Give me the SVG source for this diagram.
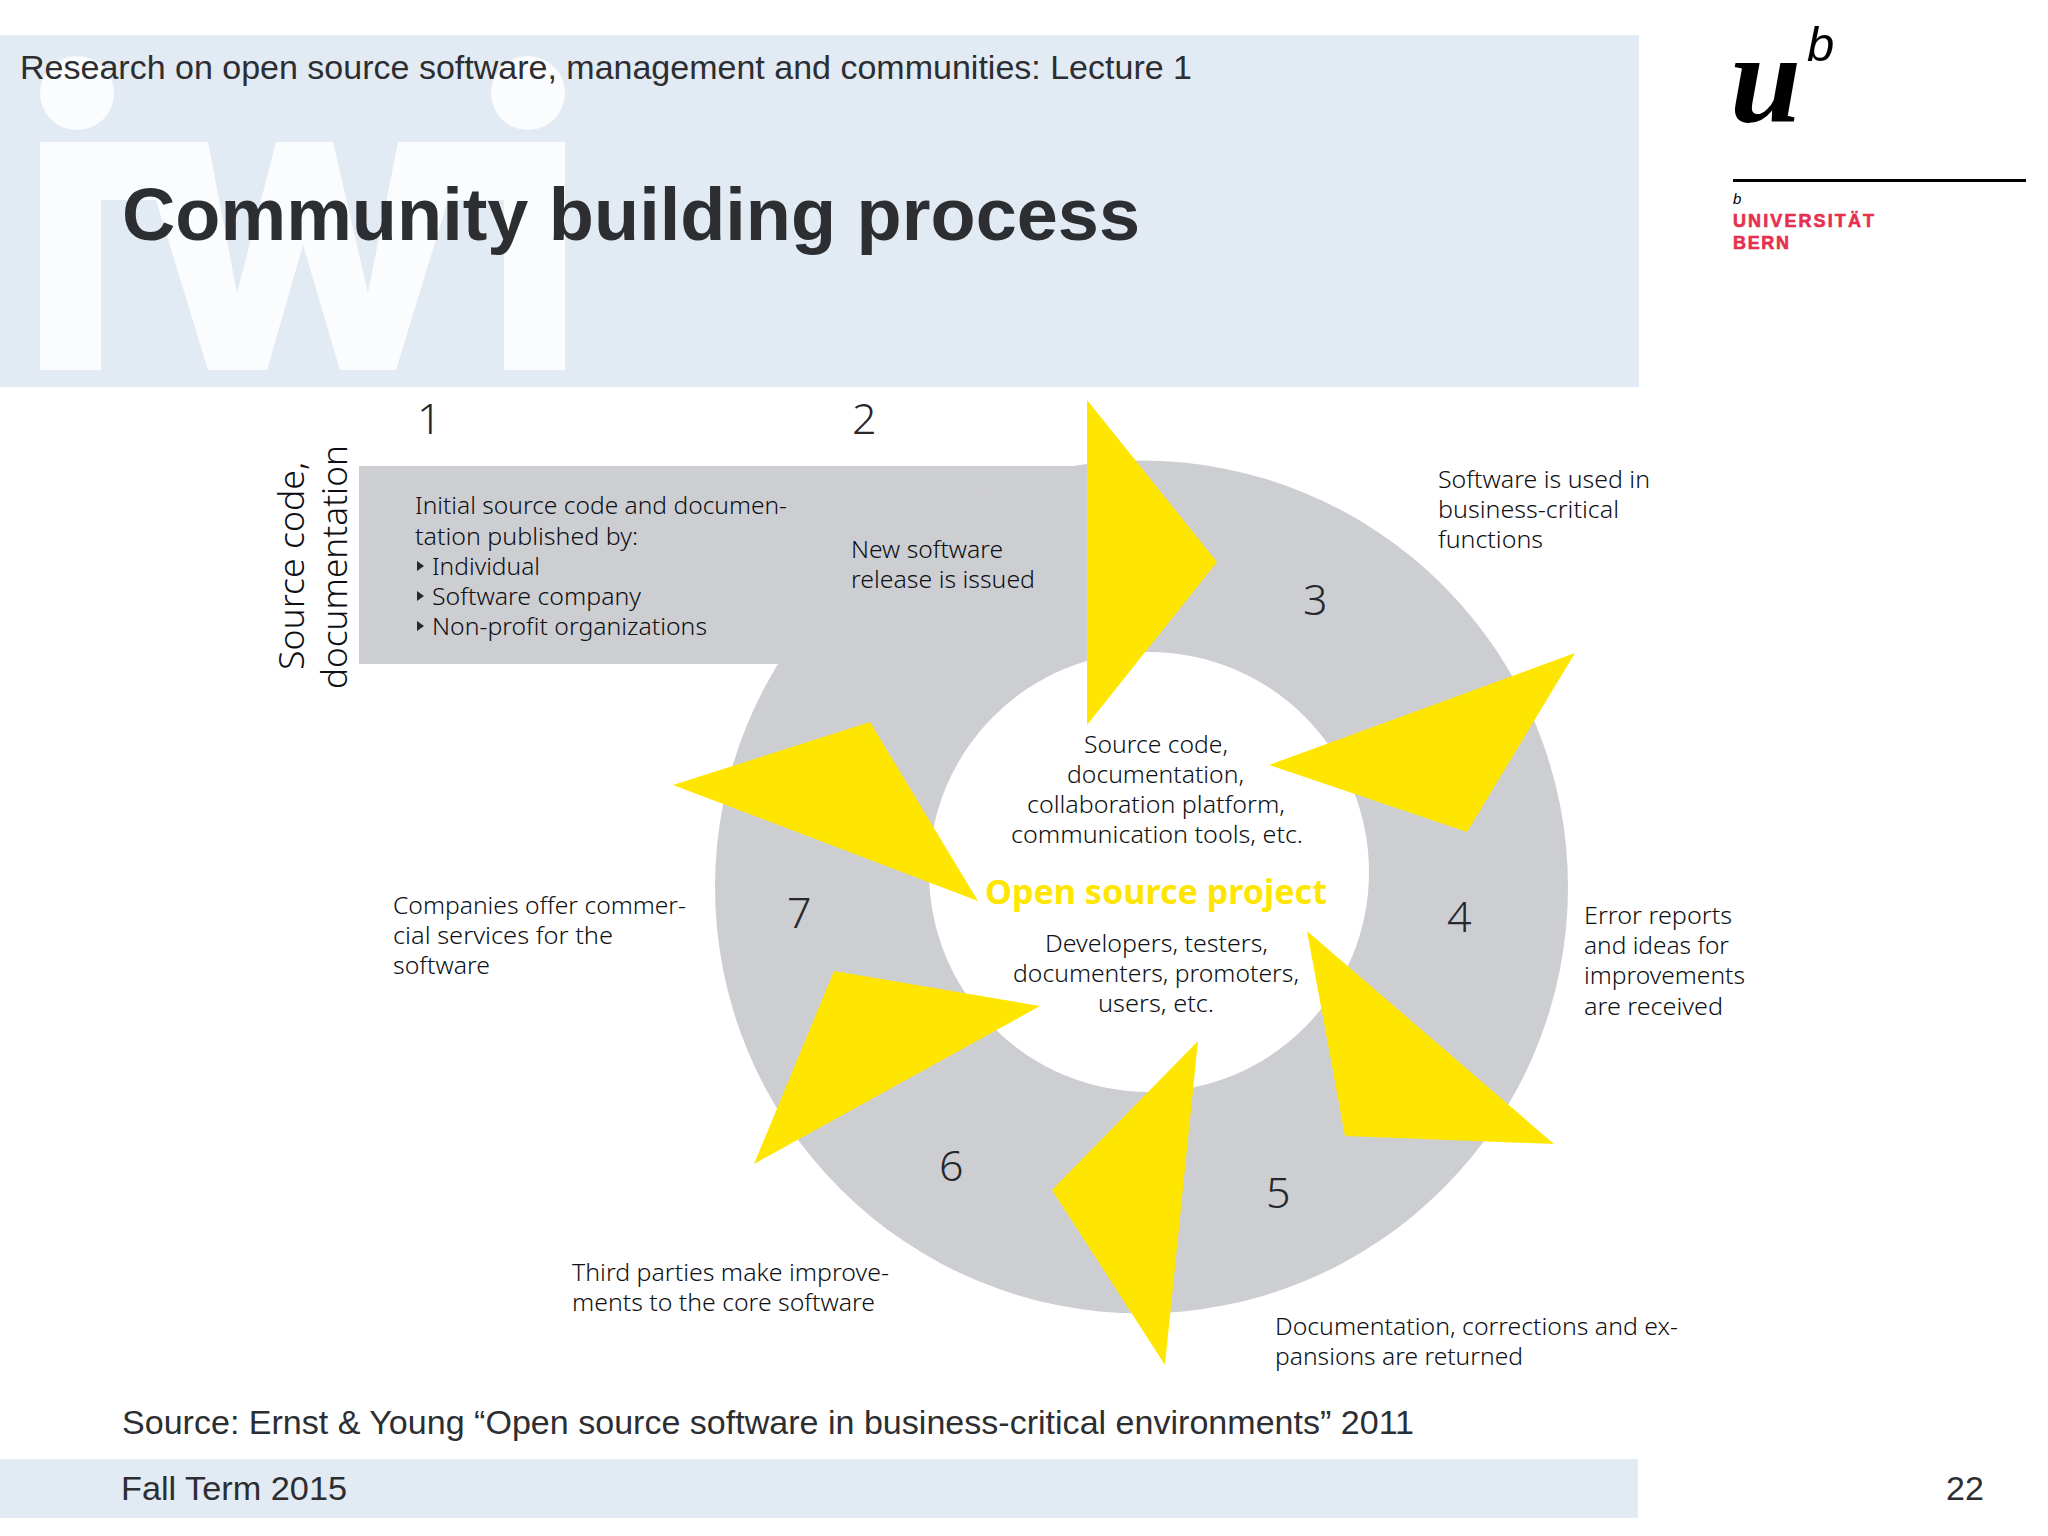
<svg xmlns="http://www.w3.org/2000/svg" width="2048" height="1536" viewBox="0 0 2048 1536">
<style>
.s{font-family:"Liberation Sans",Arial,sans-serif;fill:#2c2e32}
.b{font-family:"Noto Sans",sans-serif;font-size:24px;font-weight:300;fill:#0e1014}
.n{font-family:"Noto Sans",sans-serif;font-size:43px;fill:#26282c;font-weight:300}
.r{font-family:"Noto Sans",sans-serif;font-size:34px;font-weight:300;fill:#0e1014}
.band{fill:#e2eaf3}
.wm{fill:#fbfcfe}
.gray{fill:#cdced2}
.y{fill:#ffe600}
.red{font-family:"Liberation Sans",sans-serif;font-weight:700;font-size:18px;fill:#e5304f;stroke:#e5304f;stroke-width:.6}
</style>
<rect width="2048" height="1536" fill="#ffffff"/>
<g id="header">
<rect class="band" x="0" y="35" width="1639" height="352"/>
<g id="watermark">
<circle class="wm" cx="77" cy="93" r="37"/>
<circle class="wm" cx="528" cy="93" r="37"/>
<polygon class="wm" points="40,142 208,142 237,293 276,142 333,142 368,293 398,142 565,142 565,370 504,370 504,200 448,200 396,370 340,370 303,245 267,370 208,370 156,200 101,200 101,370 40,370"/>
</g>
<text class="s" x="20" y="79" font-size="34" textLength="1172" lengthAdjust="spacingAndGlyphs">Research on open source software, management and communities: Lecture 1</text>
<text class="s" x="122" y="240" font-size="74" font-weight="700" textLength="1018" lengthAdjust="spacingAndGlyphs">Community building process</text>
</g>
<g id="logo">
<text x="1730" y="122" font-family="Liberation Serif,serif" font-style="italic" font-weight="700" font-size="128" fill="#000">u</text>
<text x="1807" y="61" font-family="Liberation Sans,sans-serif" font-style="italic" font-size="49" fill="#000">b</text>
<rect x="1733" y="179" width="293" height="3" fill="#000"/>
<text x="1733" y="204" font-family="Liberation Sans,sans-serif" font-style="italic" font-size="15" fill="#000">b</text>
<text class="red" x="1733" y="227" textLength="141" lengthAdjust="spacing">UNIVERSITÄT</text>
<text class="red" x="1733" y="249" textLength="56" lengthAdjust="spacing">BERN</text>
</g>
<g id="ring">
<rect class="gray" x="359" y="466" width="782" height="198"/>
<circle class="gray" cx="1141.5" cy="887" r="426.5"/>
<circle cx="1149" cy="872" r="220" fill="#ffffff"/>
</g>
<g id="connectors">
<polygon class="y" points="1087,400 1217,562 1087,725"/>
<polygon class="y" points="1575,653 1269,765 1467,832"/>
<polygon class="y" points="1307,931 1554,1144 1345,1136"/>
<polygon class="y" points="1198,1041 1052,1190 1165,1365"/>
<polygon class="y" points="1040,1006 834,971 754,1164"/>
<polygon class="y" points="673,785 870,722 978,901"/>
</g>
<g id="source-label">
<text class="r" transform="translate(304,670) rotate(-90)" textLength="208" lengthAdjust="spacingAndGlyphs">Source code,</text>
<text class="r" transform="translate(347,689) rotate(-90)" textLength="244" lengthAdjust="spacingAndGlyphs">documentation</text>
</g>
<g id="step1">
<text class="n" x="417" y="434">1</text>
<text class="b" x="415" y="514" textLength="372" lengthAdjust="spacingAndGlyphs">Initial source code and documen-</text>
<text class="b" x="415" y="545" textLength="223" lengthAdjust="spacingAndGlyphs">tation published by:</text>
<polygon fill="#26282c" points="417,561 424,566 417,571"/>
<text class="b" x="432" y="575" textLength="108" lengthAdjust="spacingAndGlyphs">Individual</text>
<polygon fill="#26282c" points="417,591 424,596 417,601"/>
<text class="b" x="432" y="605" textLength="209" lengthAdjust="spacingAndGlyphs">Software company</text>
<polygon fill="#26282c" points="417,621 424,626 417,631"/>
<text class="b" x="432" y="635" textLength="275" lengthAdjust="spacingAndGlyphs">Non-profit organizations</text>
</g>
<g id="step2">
<text class="n" x="852" y="434">2</text>
<text class="b" x="851" y="558" textLength="152" lengthAdjust="spacingAndGlyphs">New software</text>
<text class="b" x="851" y="588" textLength="184" lengthAdjust="spacingAndGlyphs">release is issued</text>
</g>
<g id="step3">
<text class="n" x="1303" y="615">3</text>
<text class="b" x="1438" y="488" textLength="212" lengthAdjust="spacingAndGlyphs">Software is used in</text>
<text class="b" x="1438" y="518" textLength="181" lengthAdjust="spacingAndGlyphs">business-critical</text>
<text class="b" x="1438" y="548" textLength="105" lengthAdjust="spacingAndGlyphs">functions</text>
</g>
<g id="step4">
<text class="n" x="1447" y="932">4</text>
<text class="b" x="1584" y="924" textLength="148" lengthAdjust="spacingAndGlyphs">Error reports</text>
<text class="b" x="1584" y="954" textLength="145" lengthAdjust="spacingAndGlyphs">and ideas for</text>
<text class="b" x="1584" y="984" textLength="161" lengthAdjust="spacingAndGlyphs">improvements</text>
<text class="b" x="1584" y="1015" textLength="139" lengthAdjust="spacingAndGlyphs">are received</text>
</g>
<g id="step5">
<text class="n" x="1266" y="1208">5</text>
<text class="b" x="1275" y="1335" textLength="403" lengthAdjust="spacingAndGlyphs">Documentation, corrections and ex-</text>
<text class="b" x="1275" y="1365" textLength="248" lengthAdjust="spacingAndGlyphs">pansions are returned</text>
</g>
<g id="step6">
<text class="n" x="939" y="1181">6</text>
<text class="b" x="572" y="1281" textLength="317" lengthAdjust="spacingAndGlyphs">Third parties make improve-</text>
<text class="b" x="572" y="1311" textLength="303" lengthAdjust="spacingAndGlyphs">ments to the core software</text>
</g>
<g id="step7">
<text class="n" x="787" y="928">7</text>
<text class="b" x="393" y="914" textLength="293" lengthAdjust="spacingAndGlyphs">Companies offer commer-</text>
<text class="b" x="393" y="944" textLength="220" lengthAdjust="spacingAndGlyphs">cial services for the</text>
<text class="b" x="393" y="974" textLength="97" lengthAdjust="spacingAndGlyphs">software</text>
</g>
<g id="center">
<text class="b" x="1084" y="753" textLength="144" lengthAdjust="spacingAndGlyphs">Source code,</text>
<text class="b" x="1067" y="783" textLength="177" lengthAdjust="spacingAndGlyphs">documentation,</text>
<text class="b" x="1027" y="813" textLength="258" lengthAdjust="spacingAndGlyphs">collaboration platform,</text>
<text class="b" x="1011" y="843" textLength="292" lengthAdjust="spacingAndGlyphs">communication tools, etc.</text>
<text x="985" y="904" font-family="Noto Sans,sans-serif" font-weight="700" font-size="34" fill="#ffe600" textLength="342" lengthAdjust="spacingAndGlyphs">Open source project</text>
<text class="b" x="1045" y="952" textLength="223" lengthAdjust="spacingAndGlyphs">Developers, testers,</text>
<text class="b" x="1013" y="982" textLength="286" lengthAdjust="spacingAndGlyphs">documenters, promoters,</text>
<text class="b" x="1098" y="1012" textLength="116" lengthAdjust="spacingAndGlyphs">users, etc.</text>
</g>
<g id="footer">
<text class="s" x="122" y="1434" font-size="34" textLength="1292" lengthAdjust="spacingAndGlyphs">Source: Ernst &amp; Young “Open source software in business-critical environments” 2011</text>
<rect class="band" x="0" y="1459" width="1638" height="59"/>
<text class="s" x="121" y="1500" font-size="34" textLength="226" lengthAdjust="spacingAndGlyphs">Fall Term 2015</text>
<text class="s" x="1946" y="1500" font-size="34">22</text>
</g>
</svg>
